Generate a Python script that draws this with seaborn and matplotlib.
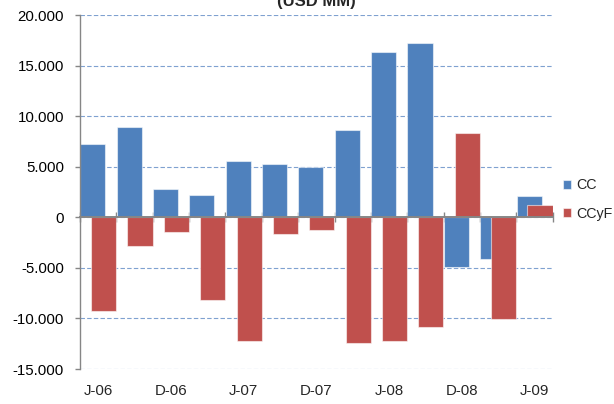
import matplotlib
matplotlib.use('Agg')
import matplotlib.pyplot as plt
import seaborn as sns
import pandas as pd
import numpy as np
from matplotlib.ticker import FixedLocator, FuncFormatter, MultipleLocator

# ---- data (USD MM) ----
periods = ["J-06", "S-06", "D-06", "M-07", "J-07", "S-07", "D-07",
           "M-08", "J-08", "S-08", "D-08", "M-09", "J-09"]
cc = [7300, 8900, 2850, 2200, 5600, 5300, 4950, 8650, 16350, 17250, -4900, -4150, 2100]
ccyf = [-9300, -2800, -1400, -8200, -12250, -1650, -1200, -12450, -12250, -10800, 8350, -10050, 1250]
series_names = ["CC", "CCyF"]
title_text = "(USD MM)"

blue = "#4F81BD"
red = "#C0504D"
gray = "#868686"

sns.set_style("white")
plt.rcParams['font.family'] = ['Liberation Sans', 'DejaVu Sans']

W, H = 614, 404
fig = plt.figure(figsize=(W / 100, H / 100), dpi=100)
left, right, top, bottom = 80, 552.7, 15.3, 369
ax = fig.add_axes([left / W, 1 - bottom / H, (right - left) / W, (bottom - top) / H])

idx = np.arange(len(periods))
shift = 0.15
df_cc = pd.DataFrame({"pos": idx - shift, "value": cc})
df_f = pd.DataFrame({"pos": idx + shift, "value": ccyf})

edge = (1, 1, 1, 0.55)
sns.barplot(data=df_cc, x="pos", y="value", native_scale=True, width=0.69,
            color=blue, saturation=1, edgecolor=edge, linewidth=0.8,
            errorbar=None, label=series_names[0], ax=ax, zorder=2)
sns.barplot(data=df_f, x="pos", y="value", native_scale=True, width=0.69,
            color=red, saturation=1, edgecolor=edge, linewidth=0.8,
            errorbar=None, label=series_names[1], ax=ax, zorder=3)

ax.set_xlabel("")
ax.set_ylabel("")
ax.set_xlim(-0.5, len(periods) - 0.5)
ax.set_ylim(-15000, 20000)

# y axis
ax.yaxis.set_major_locator(MultipleLocator(5000))
ax.yaxis.set_major_formatter(FuncFormatter(lambda v, p: f"{v:,.0f}".replace(",", ".")))
ax.tick_params(axis="y", which="major", left=True, direction="out", length=3.6,
               color=gray, width=1, pad=8, labelsize=10.8, labelcolor="black")
ax.yaxis.grid(True, color="#7FA1D0", linestyle=(0, (4, 2)), linewidth=0.8)
ax.xaxis.grid(False)
ax.set_axisbelow(True)

# x axis: labels at bottom, category-boundary ticks on the zero line
ax.xaxis.set_major_locator(FixedLocator(idx[::2]))
ax.set_xticklabels(periods[::2])
ax.xaxis.set_minor_locator(FixedLocator(np.arange(-0.5, len(periods), 1.0)))
ax.tick_params(axis="x", which="major", bottom=True, top=False, length=0,
               labelsize=10.8, pad=11, labelbottom=True, labeltop=False)
ax.tick_params(axis="x", which="minor", bottom=False, top=True, direction="inout",
               length=7, color=gray, width=1)

ax.spines["top"].set_position(("data", 0))
ax.spines["top"].set_color(gray)
ax.spines["top"].set_linewidth(1.4)
ax.spines["top"].set_zorder(5)
ax.spines["bottom"].set_visible(False)
ax.spines["right"].set_visible(False)
ax.spines["left"].set_color(gray)
ax.spines["left"].set_linewidth(1)

# legend
handles, labels = ax.get_legend_handles_labels()
ax.legend(handles, labels, loc="center left",
          bbox_to_anchor=(563 / W, 1 - 199.5 / H), bbox_transform=fig.transFigure,
          frameon=False, fontsize=10.3, handlelength=0.55, handleheight=0.55,
          handletextpad=0.35, labelspacing=1.0, borderaxespad=0, borderpad=0)

# title (mostly clipped at the top, as in the reference)
fig.text(316 / W, 1 - 6 / H, title_text, ha="center", va="baseline",
         fontweight="bold", fontsize=12)

fig.savefig("out.png", dpi=100)
